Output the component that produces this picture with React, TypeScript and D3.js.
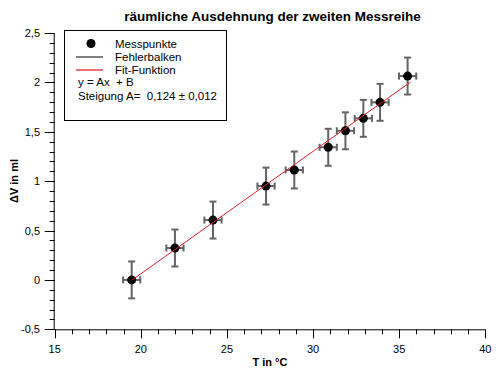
import React from "react";
import * as d3 from "d3";

const tempValues = [19.47, 21.98, 24.19, 27.27, 28.91, 30.88, 31.88, 32.92, 33.89, 35.49];
const volumeValues = [0.0, 0.323, 0.606, 0.95, 1.113, 1.343, 1.51, 1.636, 1.798, 2.064];
const tempErrors = [0.5, 0.5, 0.5, 0.5, 0.5, 0.5, 0.5, 0.5, 0.5, 0.5];
const volumeErrors = [0.187, 0.187, 0.187, 0.187, 0.187, 0.187, 0.187, 0.187, 0.187, 0.187];
const fitSlope = 0.124;
const fitIntercept = -2.418;
const fitRange = [19.5, 35.65];
const xTicks = [15, 20, 25, 30, 35, 40];
const yTicks = [-0.5, 0, 0.5, 1, 1.5, 2, 2.5];
const legendLabels = ["Messpunkte", "Fehlerbalken", "Fit-Funktion"];
const legendFormula = "y = Ax  + B";
const legendSlope = "Steigung A=  0,124 ± 0,012";
const title = "räumliche Ausdehnung der zweiten Messreihe";
const xLabel = "T in °C";
const yLabel = "ΔV in ml";

const FONT = "'Liberation Sans', Arial, sans-serif";

export default function App() {
  const x = d3.scaleLinear().domain([15, 40]).range([54.7, 485.3]);
  const y = d3.scaleLinear().domain([-0.5, 2.5]).range([329.3, 33]);
  const fmt = (v: number) => String(v).replace(".", ",");
  const xMinor = d3.range(15, 40.001, 1);
  const yMinor = d3.range(-0.5, 2.5001, 0.1);
  const fitLine = d3.line<number>().x((t) => x(t)).y((t) => y(fitSlope * t + fitIntercept));
  const errColor = "#646464";
  const cap = 3.5;

  return (
    <svg width={496} height={375} style={{ position: "absolute", left: 0, top: 0, background: "#fff" }} fontFamily={FONT}>
      <rect width={496} height={375} fill="#fff" />
      <text x={272.5} y={20.5} textAnchor="middle" fontWeight="bold" fontSize={13.5}>{title}</text>

      {/* x axis */}
      <line x1={x(15)} x2={x(40)} y1={y(-0.5) + 0.5} y2={y(-0.5) + 0.5} stroke="#000" />
      {xMinor.map((t) => {
        const major = Math.abs(t % 5) < 1e-6;
        return <line key={"xm" + t} x1={Math.round(x(t)) + 0.5} x2={Math.round(x(t)) + 0.5} y1={y(-0.5)} y2={y(-0.5) + (major ? 9 : 5)} stroke="#000" />;
      })}
      {xTicks.map((t) => (
        <text key={"xt" + t} x={x(t)} y={353} textAnchor="middle" fontSize={11}>{fmt(t)}</text>
      ))}
      <text x={270} y={366} textAnchor="middle" fontWeight="bold" fontSize={11}>{xLabel}</text>

      {/* y axis */}
      <line x1={x(15) - 0.5} x2={x(15) - 0.5} y1={y(2.5)} y2={y(-0.5)} stroke="#000" />
      {yMinor.map((v, i) => {
        const major = i % 5 === 0;
        return <line key={"ym" + i} x1={x(15) - (major ? 10 : 5)} x2={x(15)} y1={Math.round(y(v)) + 0.5} y2={Math.round(y(v)) + 0.5} stroke="#000" />;
      })}
      {yTicks.map((v) => (
        <text key={"yt" + v} x={40} y={y(v) + 4} textAnchor="end" fontSize={11}>{fmt(v)}</text>
      ))}
      <text transform={`translate(18,181) rotate(-90)`} textAnchor="middle" fontWeight="bold" fontSize={11}>{yLabel}</text>

      {/* error bars */}
      {tempValues.map((t, i) => {
        const cx = x(t), cy = y(volumeValues[i]);
        const y1 = y(volumeValues[i] + volumeErrors[i]), y2 = y(volumeValues[i] - volumeErrors[i]);
        const x1 = x(t - tempErrors[i]), x2 = x(t + tempErrors[i]);
        return (
          <g key={"e" + i} stroke={errColor} strokeWidth={2}>
            <line x1={cx} x2={cx} y1={y1} y2={y2} />
            <line x1={cx - cap} x2={cx + cap} y1={y1} y2={y1} />
            <line x1={cx - cap} x2={cx + cap} y1={y2} y2={y2} />
            <line x1={x1} x2={x2} y1={cy} y2={cy} />
            <line x1={x1} x2={x1} y1={cy - cap} y2={cy + cap} />
            <line x1={x2} x2={x2} y1={cy - cap} y2={cy + cap} />
          </g>
        );
      })}
      {tempValues.map((t, i) => (
        <circle key={"p" + i} cx={x(t)} cy={y(volumeValues[i])} r={4.5} fill="#000" />
      ))}
      <path d={fitLine(fitRange) || ""} stroke="#e0202c" strokeWidth={1} fill="none" />

      {/* legend */}
      <rect x={64.5} y={30.5} width={162} height={90} fill="#fff" stroke="#000" />
      <circle cx={91} cy={43.5} r={4.5} fill="#000" />
      <line x1={76} x2={103} y1={57} y2={57} stroke="#808080" strokeWidth={2} />
      <line x1={76} x2={103} y1={70} y2={70} stroke="#f07070" strokeWidth={2} />
      {legendLabels.map((l, i) => (
        <text key={l} x={115} y={48 + i * 13} fontSize={11.5}>{l}</text>
      ))}
      <text x={78} y={86} fontSize={11.5} style={{ whiteSpace: "pre" }}>{legendFormula}</text>
      <text x={78} y={100} fontSize={11.5} style={{ whiteSpace: "pre" }}>{legendSlope}</text>
    </svg>
  );
}
